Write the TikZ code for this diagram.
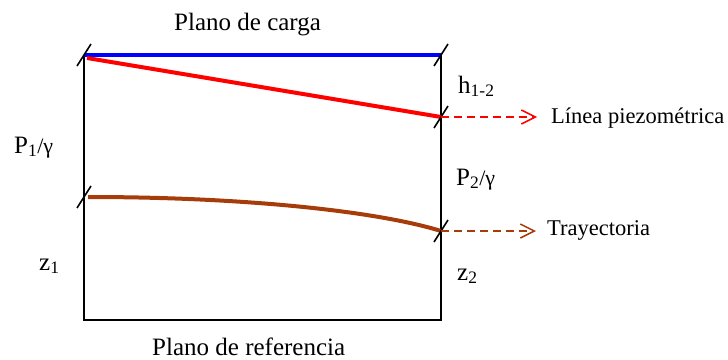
\documentclass[tikz,border=0pt]{standalone}
\usepackage{fontspec}
\setmainfont{Liberation Serif}
\usetikzlibrary{arrows.meta,calc}
\definecolor{brn}{RGB}{165,60,10}
\begin{document}
\begin{tikzpicture}[x=1pt,y=-1pt,
  frame/.style={line width=2pt,black},
  tickmark/.style={line width=1.6pt,black},
  bigtxt/.style={font=\fontsize{25}{30}\selectfont,inner sep=0pt,anchor=base west},
  sidetxt/.style={font=\fontsize{22.5}{27}\selectfont,inner sep=0pt,anchor=base west},
  thick line/.style={line width=4pt},
  dasharrow/.style={line width=1.5pt,dash pattern=on 8pt off 5pt,
     -{Straight Barb[length=14pt,width=14pt,line width=1.5pt]}}]
\useasboundingbox (0,0) rectangle (728,359);
\coordinate (TL) at (84,55);
\coordinate (TR) at (441,55);
\coordinate (BL) at (84,320);
\coordinate (BR) at (441,320);
\coordinate (R1) at (441,117);
\coordinate (R2) at (441,231);
\coordinate (L1) at (87,58);
\coordinate (L2) at (84,197);
\coordinate (L2s) at (88,197);
% frame
\draw[frame] (TL) -- (BL) -- (BR) -- (TR);
% lines
\draw[thick line,blue] (TL) -- (TR);
\draw[thick line,red] (L1) -- (R1);
\draw[thick line,brn] (L2s) .. controls (250,197) and (380,212) .. (R2);
% tick marks
\foreach \p in {TL,TR,R1,R2,L2}
  \draw[tickmark] ([shift={(-7,11)}]\p) -- ([shift={(7,-11)}]\p);
% labels
\node[bigtxt] (carga) at (174,30) {Plano de carga};
\node[bigtxt] (ref) at (152,355) {Plano de referencia};
\node[sidetxt] (lp) at (551,123) {Línea piezométrica};
\node[sidetxt] (tr) at (547,235) {Trayectoria};
\node[bigtxt] (h) at (458,93) {h\textsubscript{1-2}};
\node[bigtxt] (p1) at (14,153) {P\textsubscript{1}{\fontsize{22}{26}\selectfont/γ}};
\node[bigtxt] (p2) at (456,185) {P\textsubscript{2}{\fontsize{22}{26}\selectfont/γ}};
\node[bigtxt] (z1) at (39,270) {z\textsubscript{1}};
\node[bigtxt] (z2) at (457,280) {z\textsubscript{2}};
% dashed arrows
\draw[dasharrow,red] (R1) -- ([xshift=-14pt]R1 -| lp.west);
\draw[dasharrow,brn] (R2) -- ([xshift=-11pt]R2 -| tr.west);
\end{tikzpicture}
\end{document}
